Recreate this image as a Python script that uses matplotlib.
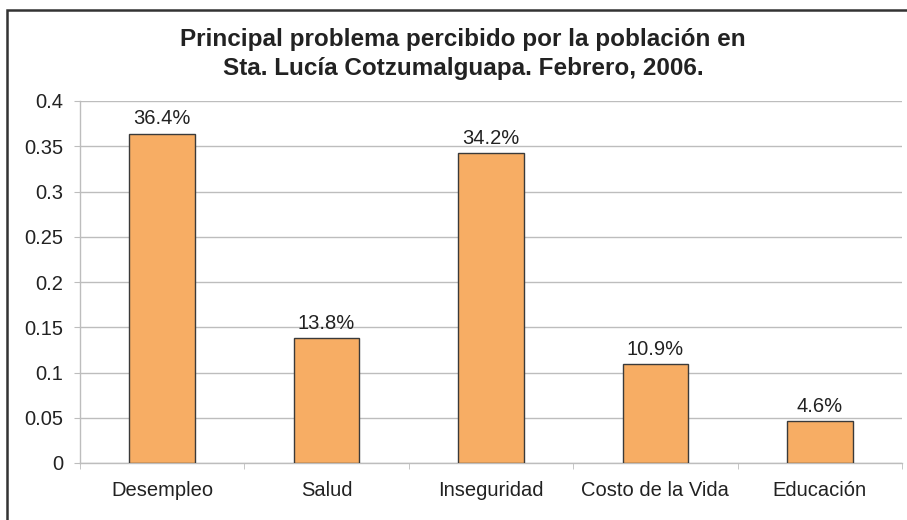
import numpy as np
import matplotlib
matplotlib.use('Agg')
import matplotlib.pyplot as plt
from matplotlib.patches import Rectangle

# Data
categories = ['Desempleo', 'Salud', 'Inseguridad', 'Costo de la Vida', 'Educación']
values = [0.364, 0.138, 0.342, 0.109, 0.046]
labels = ['36.4%', '13.8%', '34.2%', '10.9%', '4.6%']
yticks = [0, 0.05, 0.1, 0.15, 0.2, 0.25, 0.3, 0.35, 0.4]
ytick_labels = ['0', '0.05', '0.1', '0.15', '0.2', '0.25', '0.3', '0.35', '0.4']

plt.rcParams['font.family'] = ['Liberation Sans', 'DejaVu Sans']

W, H = 907, 520
fig = plt.figure(figsize=(W / 100, H / 100), dpi=100)
ax = fig.add_axes([80 / W, 1 - 463 / H, (902 - 80) / W, (463 - 101) / H])

x = np.arange(len(categories))
ax.bar(x, values, width=0.4, color='#F7AD64', edgecolor='#3A3A3A', linewidth=1.0, zorder=3)

for xi, v, lab in zip(x, values, labels):
    ax.annotate(lab, (xi, v), xytext=(0, 4), textcoords='offset points',
                ha='center', va='bottom', fontsize=14.5, color='#222222')

ax.set_xlim(-0.5, len(categories) - 0.5)
ax.set_ylim(0, 0.4)
ax.set_yticks(yticks)
ax.set_yticklabels(ytick_labels)
ax.set_xticks(x)
ax.set_xticklabels(categories)
ax.set_xticks(np.arange(-0.5, len(categories)), minor=True)

ax.yaxis.grid(True, color='#BDBDBD', linewidth=1.0, zorder=0)
ax.set_axisbelow(True)

for side in ['top', 'right']:
    ax.spines[side].set_visible(False)
for side in ['left', 'bottom']:
    ax.spines[side].set_color('#BDBDBD')
    ax.spines[side].set_linewidth(1.0)

ax.tick_params(axis='y', length=4, color='#BDBDBD', pad=8, labelsize=14.5, labelcolor='#222222')
ax.tick_params(axis='x', which='major', length=0, pad=13, labelsize=14.5, labelcolor='#222222')
ax.tick_params(axis='x', which='minor', length=4, color='#BDBDBD')

fig.text(463 / W, 1 - 54 / H, 'Principal problema percibido por la población en\nSta. Lucía Cotzumalguapa. Febrero, 2006.',
         ha='center', va='center', fontsize=17.5, fontweight='bold', color='#222222', linespacing=1.35)

# outer frame (runs off the right and bottom of the picture)
fig.patches.append(Rectangle((7 / W, -0.1), 1.2, 1 - 10 / H + 0.1, transform=fig.transFigure,
                             fill=False, edgecolor='#333333', linewidth=1.8))

fig.savefig('out.png', dpi=100)
